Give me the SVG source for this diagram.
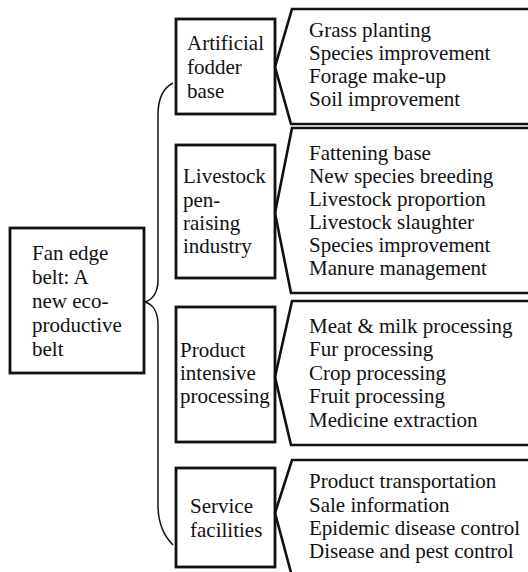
<svg xmlns="http://www.w3.org/2000/svg" width="528" height="572" viewBox="0 0 528 572">
<style>
.box{fill:#fff;stroke:#111;stroke-width:2.8}
.br{fill:none;stroke:#111;stroke-width:2.6;stroke-linejoin:miter}
.brace{fill:none;stroke:#111;stroke-width:1.5}
text{font-family:"Liberation Serif","Times New Roman",serif;font-size:21px;fill:#111}
</style>
<rect width="528" height="572" fill="#fff"/>
<g id="connectors">
<path class="brace" d="M173,83 C163,88 158,98 158,115 L158,280 C158,293 152,300 145,302 C152,304 158,311 158,325 L158,505 C158,520 163,535 173,545"/>
</g>
<g id="root">
<rect class="box" x="10" y="228" width="134" height="145"/>
<text x="32" y="260">Fan edge</text>
<text x="32" y="284">belt: A</text>
<text x="32" y="308">new eco-</text>
<text x="32" y="332">productive</text>
<text x="32" y="356">belt</text>
</g>
<g id="n1">
<rect class="box" x="176" y="19" width="99" height="95"/>
<text x="187" y="50">Artificial</text>
<text x="187" y="74">fodder</text>
<text x="187" y="98">base</text>
</g>
<g id="n2">
<rect class="box" x="176" y="145" width="99" height="133"/>
<text x="183" y="183">Livestock</text>
<text x="183" y="207">pen-</text>
<text x="183" y="230">raising</text>
<text x="183" y="253">industry</text>
</g>
<g id="n3">
<rect class="box" x="176" y="307" width="99" height="135"/>
<text x="180" y="357">Product</text>
<text x="180" y="380">intensive</text>
<text x="180" y="403">processing</text>
</g>
<g id="n4">
<rect class="box" x="176" y="468" width="99" height="99"/>
<text x="190" y="513">Service</text>
<text x="190" y="537">facilities</text>
</g>
<g id="l1">
<path class="br" d="M530,9 L292,9 L275,67 L291,124 L530,124"/>
<text x="309" y="37">Grass planting</text>
<text x="309" y="60">Species improvement</text>
<text x="309" y="83">Forage make-up</text>
<text x="309" y="106">Soil improvement</text>
</g>
<g id="l2">
<path class="br" d="M530,128 L292,128 L275,213 L291,293 L530,293"/>
<text x="309" y="160">Fattening base</text>
<text x="309" y="183">New species breeding</text>
<text x="309" y="206">Livestock proportion</text>
<text x="309" y="229">Livestock slaughter</text>
<text x="309" y="252">Species improvement</text>
<text x="309" y="275">Manure management</text>
</g>
<g id="l3">
<path class="br" d="M530,301 L292,301 L275,377 L291,445 L530,445"/>
<text x="309" y="333">Meat &amp; milk processing</text>
<text x="309" y="356">Fur processing</text>
<text x="309" y="379.5">Crop processing</text>
<text x="309" y="403">Fruit processing</text>
<text x="309" y="426.5">Medicine extraction</text>
</g>
<g id="l4">
<path class="br" d="M530,460 L292,460 L275,513 L293,580"/>
<text x="309" y="488">Product transportation</text>
<text x="309" y="511.5">Sale information</text>
<text x="309" y="535">Epidemic disease control</text>
<text x="309" y="558">Disease and pest control</text>
</g>
</svg>
